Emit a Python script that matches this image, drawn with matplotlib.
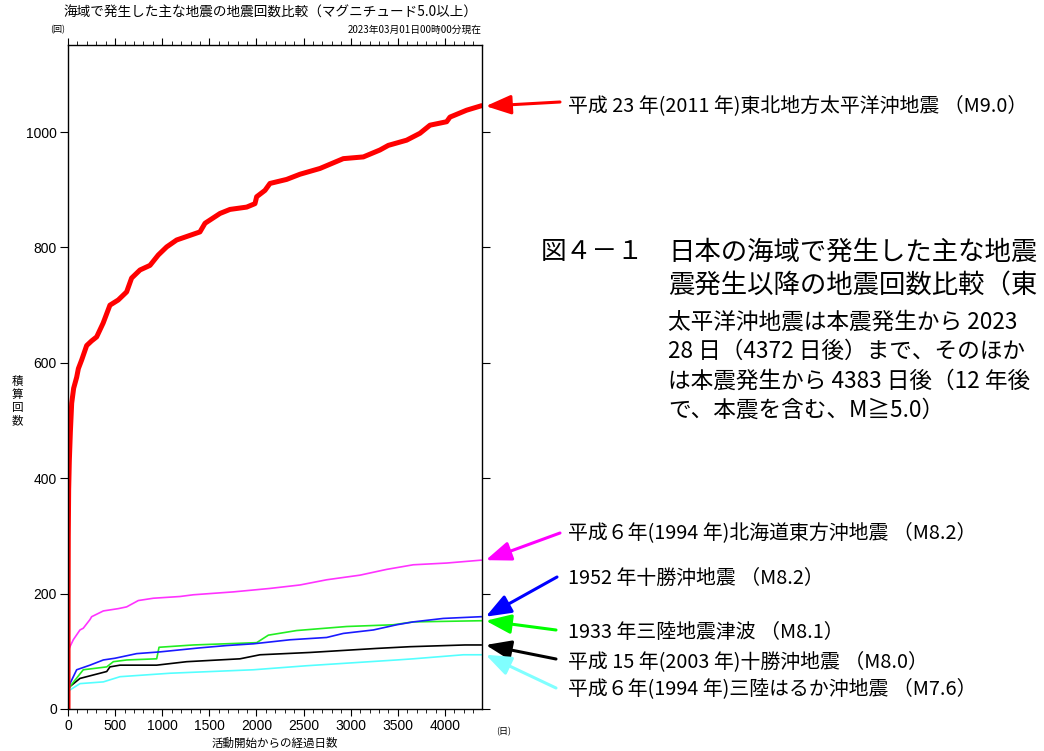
import matplotlib.pyplot as plt
from matplotlib.ticker import MultipleLocator

plt.rcParams['font.family'] = ['Noto Sans CJK JP', 'DejaVu Sans']

# cumulative counts (M>=5.0) against days since each mainshock
tohoku_days = [0, 1, 3, 7, 14, 25, 39, 60, 92, 110, 145, 198, 250, 304, 373, 445, 533,
               622, 675, 764, 870, 958, 1047, 1153, 1259, 1400, 1454, 1613, 1719, 1896,
               1984, 2002, 2090, 2143, 2320, 2462, 2674, 2921, 3134, 3310, 3399, 3593,
               3735, 3841, 4018, 4053, 4230, 4372]
tohoku_cnt = [1, 180, 300, 380, 430, 480, 530, 556, 575, 590, 605, 630, 638, 645, 669,
              700, 709, 723, 747, 761, 769, 787, 801, 813, 819, 827, 842, 859, 866, 870,
              876, 888, 899, 911, 918, 927, 937, 954, 957, 969, 977, 986, 998, 1012,
              1018, 1026, 1038, 1045]

hokkaido_days = [0, 21, 56, 127, 162, 233, 251, 375, 534, 622, 746, 905, 1188, 1330,
                 1754, 2143, 2462, 2745, 3098, 3381, 3664, 4018, 4383]
hokkaido_cnt = [100, 108, 120, 137, 140, 155, 160, 170, 174, 177, 188, 192, 195, 198,
                203, 209, 215, 224, 232, 242, 250, 253, 258]

tokachi52_days = [0, 21, 92, 233, 375, 499, 729, 976, 1400, 1684, 1967, 2356, 2745,
                  2921, 3240, 3488, 3664, 3982, 4383]
tokachi52_cnt = [35, 44, 68, 76, 85, 88, 96, 99, 106, 110, 113, 120, 124, 131, 137,
                 146, 151, 157, 160]

sanriku33_days = [0, 21, 162, 411, 481, 623, 941, 966, 1330, 2002, 2126, 2426, 2957,
                  3452, 3664, 4383]
sanriku33_cnt = [33, 39, 68, 73, 82, 85, 87, 107, 111, 115, 128, 136, 143, 146, 151, 153]

tokachi03_days = [0, 21, 127, 411, 445, 552, 941, 1259, 1825, 2037, 2568, 3275, 3629,
                  4212, 4383]
tokachi03_cnt = [33, 39, 53, 65, 73, 76, 76, 82, 87, 94, 98, 105, 108, 111, 111]

haruka_days = [0, 21, 127, 375, 552, 1082, 1967, 2533, 3488, 3664, 4195, 4383]
haruka_cnt = [28, 33, 44, 47, 56, 62, 68, 75, 85, 87, 94, 94]

series = [
    (tohoku_days, tohoku_cnt, '#ff0000', 3.6, '平成 23 年(2011 年)東北地方太平洋沖地震 （M9.0）', (560, 649), 106),
    (hokkaido_days, hokkaido_cnt, '#ff33ff', 1.2, '平成６年(1994 年)北海道東方沖地震 （M8.2）', (560, 218), 533),
    (tokachi52_days, tokachi52_cnt, '#1a1aff', 1.2, '1952 年十勝沖地震 （M8.2）', (557, 174), 578),
    (sanriku33_days, sanriku33_cnt, '#22ee22', 1.2, '1933 年三陸地震津波 （M8.1）', (556, 121), 632),
    (tokachi03_days, tokachi03_cnt, '#000000', 1.2, '平成 15 年(2003 年)十勝沖地震 （M8.0）', (556, 92), 662),
    (haruka_days, haruka_cnt, '#55ffff', 1.2, '平成６年(1994 年)三陸はるか沖地震 （M7.6）', (556, 63), 689),
]
arrow_colors = ['#ff0000', '#ff00ff', '#0000ff', '#00ff00', '#000000', '#80ffff']

fig = plt.figure(figsize=(10.44, 7.51), dpi=100)
ax = fig.add_axes([68 / 1044, 42 / 751, 414 / 1044, 664 / 751])

# thin lines first so the red one sits on top
for d, c, col, lw, *_ in series[::-1]:
    ax.plot(d, c, color=col, lw=lw)

ax.set_xlim(0, 4393)
ax.set_ylim(0, 1151)
ax.xaxis.set_major_locator(MultipleLocator(500))
ax.xaxis.set_minor_locator(MultipleLocator(100))
ax.yaxis.set_major_locator(MultipleLocator(200))
ax.tick_params(axis='x', which='both', direction='out', top=True, bottom=True,
               labelsize=10, pad=2)
ax.tick_params(axis='x', which='major', length=5, width=0.8)
ax.tick_params(axis='x', which='minor', length=3, width=0.6)
ax.tick_params(axis='y', direction='out', left=True, right=True, length=6,
               width=0.8, labelsize=10, pad=2)
for lab in ax.get_xticklabels() + ax.get_yticklabels():
    lab.set_family('Liberation Sans')
for s in ax.spines.values():
    s.set_linewidth(1.0)

# labels round the plot
fig.text(270 / 1044, 1 - 13 / 751, '海域で発生した主な地震の地震回数比較（マグニチュード5.0以上）',
         ha='center', va='center', fontsize=9.8)
fig.text(58 / 1044, 1 - 30 / 751, '(回)', ha='center', va='center', fontsize=6.5)
fig.text(482 / 1044, 1 - 30 / 751, '2023年03月01日00時00分現在',
         ha='right', va='center', fontsize=7)
fig.text(17 / 1044, 1 - 401 / 751, '積\n算\n回\n数', ha='center', va='center',
         fontsize=8.3, linespacing=1.0)
fig.text(275 / 1044, 1 - 743 / 751, '活動開始からの経過日数', ha='center', va='center',
         fontsize=8.3)
fig.text(504 / 1044, 1 - 732 / 751, '(日)', ha='center', va='center', fontsize=6.5)

# arrows pointing at the end of each curve, with the event names
for (d, c, col, lw, label, tail, ty), acol in zip(series, arrow_colors):
    ax.annotate('', xy=(1.009, c[-1]), xycoords=('axes fraction', 'data'),
                xytext=tail, textcoords='figure pixels',
                arrowprops=dict(arrowstyle='-|>,head_length=1.1,head_width=0.42',
                                mutation_scale=14, color=acol, lw=2.2,
                                shrinkA=0, shrinkB=0))
    fig.text(568 / 1044, 1 - ty / 751, label, ha='left', va='center', fontsize=14.3)

# figure caption on the right
fig.text(541 / 1044, 1 - 252 / 751, '図４－１', ha='left', va='center', fontsize=18.5)
cap_big = ['日本の海域で発生した主な地震', '震発生以降の地震回数比較（東']
cap_small = ['太平洋沖地震は本震発生から 2023', '28 日（4372 日後）まで、そのほか',
             'は本震発生から 4383 日後（12 年後', 'で、本震を含む、M≧5.0）']
for i, t in enumerate(cap_big):
    fig.text(668 / 1044, 1 - (252 + 34 * i) / 751, t, ha='left', va='center', fontsize=19)
for i, t in enumerate(cap_small):
    fig.text(668 / 1044, 1 - (322 + 29.5 * i) / 751, t, ha='left', va='center', fontsize=16.3)

fig.savefig('out.png', dpi=100)
